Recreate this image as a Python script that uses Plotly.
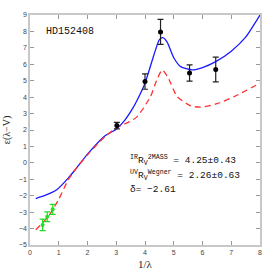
import plotly.graph_objects as go

# Black (UV/optical) data points
obs_x = [3.02, 4.00, 4.54, 5.55, 6.46]
obs_y = [2.27, 4.95, 7.97, 5.47, 5.68]
obs_err = [0.2, 0.47, 0.76, 0.5, 0.75]

# Green (IR) data points
ir_x = [0.44, 0.60, 0.79]
ir_y = [-3.78, -3.28, -2.83]
ir_err = [0.35, 0.3, 0.3]

# Blue fitted curve
blue_x = [0.2, 0.5, 0.93, 1.33, 1.57, 2.03, 2.61, 3.0, 3.3, 3.55, 3.73, 4.0, 4.31, 4.5, 4.62, 4.77, 5.0, 5.24, 5.64, 6.0, 6.46, 7.0, 7.5, 8.0]
blue_y = [-2.17, -2.0, -1.64, -0.93, -0.42, 0.59, 1.65, 2.05, 2.6, 3.25, 3.83, 4.85, 6.57, 7.5, 7.62, 7.35, 6.4, 5.86, 5.66, 5.8, 6.16, 6.8, 7.65, 9.0]

# Red dashed curve
red_x = [0.2, 0.64, 0.99, 1.33, 1.57, 2.03, 2.61, 3.02, 3.4, 3.72, 4.19, 4.4, 4.6, 4.8, 5.12, 5.59, 5.93, 6.5, 7.1, 8.0]
red_y = [-4.07, -3.26, -2.25, -1.03, -0.42, 0.55, 1.6, 2.15, 2.45, 2.8, 4.03, 5.0, 5.66, 5.2, 4.03, 3.47, 3.39, 3.6, 4.03, 4.85]

x_ticks = [0, 1, 2, 3, 4, 5, 6, 7, 8]
y_ticks = [-5, -4, -3, -2, -1, 0, 1, 2, 3, 4, 5, 6, 7, 8, 9]

fig = go.Figure()
fig.add_trace(go.Scatter(x=blue_x, y=blue_y, mode="lines",
                         line=dict(color="#1a1aff", width=1.3, shape="spline", smoothing=0.6)))
fig.add_trace(go.Scatter(x=red_x, y=red_y, mode="lines",
                         line=dict(color="#ff3030", width=1.3, dash="6px,4px", shape="spline", smoothing=0.6)))
fig.add_trace(go.Scatter(x=obs_x, y=obs_y, mode="markers",
                         marker=dict(color="black", size=5),
                         error_y=dict(type="data", array=obs_err, color="#222222", thickness=1.2, width=3)))
fig.add_trace(go.Scatter(x=ir_x, y=ir_y, mode="markers",
                         marker=dict(color="#22dd22", size=4),
                         error_y=dict(type="data", array=ir_err, color="#22dd22", thickness=1.2, width=3)))

lblfont = dict(family="Liberation Mono", size=9.5, color="#111111")
fig.add_annotation(x=0.5, y=8.0, xref="x", yref="y", xanchor="left", showarrow=False,
                   text="HD152408", font=dict(family="Liberation Mono", size=10, color="#111111"))
fig.add_annotation(x=3.4, y=0.2, xref="x", yref="y", xanchor="left", showarrow=False,
                   text="<sup>IR</sup>R<sub>V</sub><sup>2MASS</sup> = 4.25±0.43", font=lblfont)
fig.add_annotation(x=3.4, y=-0.75, xref="x", yref="y", xanchor="left", showarrow=False,
                   text="<sup>UV</sup>R<sub>V</sub><sup>Wegner</sup> = 2.26±0.63", font=lblfont)
fig.add_annotation(x=3.4, y=-1.6, xref="x", yref="y", xanchor="left", showarrow=False,
                   text="δ= −2.61", font=lblfont)

axis_common = dict(showgrid=False, zeroline=False, showline=True, linecolor="#c8c8c8",
                   linewidth=1.5, mirror="ticks", ticks="inside", ticklen=4, tickcolor="#999999",
                   automargin=False,
                   tickfont=dict(family="Liberation Sans, Arial", size=7, color="#444444"))
fig.update_xaxes(range=[0, 8], tickvals=x_ticks,
                 title=dict(text="1/λ", font=dict(family="Liberation Serif, serif", size=11, color="#222"), standoff=5),
                 **axis_common)
fig.update_yaxes(range=[-5, 9], tickvals=y_ticks,
                 title=dict(text="ε(λ−V)", font=dict(family="Liberation Serif, serif", size=10, color="#222"), standoff=6),
                 **axis_common)
fig.update_layout(width=274, height=274, showlegend=False,
                  margin=dict(l=30, r=14, t=15, b=29),
                  plot_bgcolor="white", paper_bgcolor="white")
fig.write_html("out.html", config={"displayModeBar": False},
               post_script="document.body.style.margin='0';")
